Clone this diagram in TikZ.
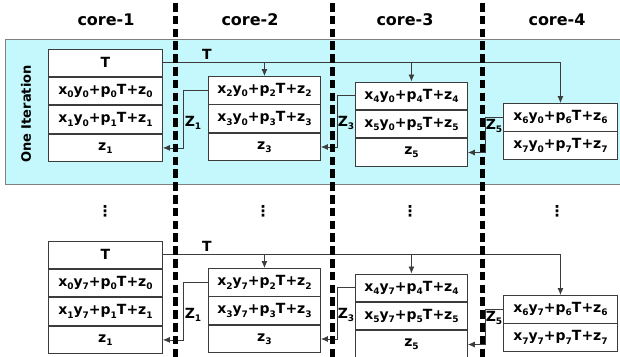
\documentclass[tikz,border=0pt]{standalone}
\usepackage{fontspec}
\setmainfont{DejaVu Sans}
\usetikzlibrary{arrows.meta}
\definecolor{cyanbg}{RGB}{196,248,252}
\definecolor{edge}{RGB}{60,60,60}
\newcommand\lo[1]{\raisebox{-0.45ex}{\fontsize{9}{9}\selectfont #1}}
\newcommand\eqn[2]{x\lo{#1}y\lo{#2}+p\lo{#1}T+z\lo{#1}}
\begin{document}
\begin{tikzpicture}[x=1pt,y=-1pt,
  cell/.style={draw=edge, fill=white, line width=0.9pt, minimum height=27.5pt,
    inner sep=0pt, anchor=north west, font=\fontsize{14}{14}\selectfont\bfseries},
  conn/.style={draw=edge, line width=0.8pt, -{Latex[length=7pt,width=6pt]}},
  lbl/.style={font=\fontsize{14}{14}\selectfont\bfseries, inner sep=0pt},
  head/.style={font=\fontsize{16}{16}\selectfont\bfseries, inner sep=0pt},
  dotsn/.style={font=\fontsize{15}{15}\selectfont\bfseries, inner sep=0pt},
  divider/.style={line width=5pt, dash pattern=on 8.5pt off 4.3pt}]
\useasboundingbox (0,0) rectangle (620,356);
\begin{scope}
\clip (0,0) rectangle (620,356);
\fill[cyanbg, draw=gray, line width=0.8pt] (5,39) rectangle (630,184);
\node[rotate=90, font=\fontsize{13}{13}\selectfont\bfseries, inner sep=0pt] (iter) at (26,114) {One Iteration};

\node[head] (h1) at (106,20) {core-1};
\node[head] (h2) at (250,20) {core-2};
\node[head] (h3) at (405,20) {core-3};
\node[head] (h4) at (557,20) {core-4};

\foreach \g/\o/\yy in {u/0/0, l/192/7} {
  \node[cell, minimum width=114pt] (c1a\g) at (48,{48.5+\o}) {T};
  \node[cell, minimum width=114pt, anchor=north] (c1b\g) at (c1a\g.south) {\eqn{0}{\yy}};
  \node[cell, minimum width=114pt, anchor=north] (c1c\g) at (c1b\g.south) {\eqn{1}{\yy}};
  \node[cell, minimum width=114pt, anchor=north] (c1d\g) at (c1c\g.south) {z\lo{1}};

  \node[cell, minimum width=112pt] (c2a\g) at (208,{76+\o}) {\eqn{2}{\yy}};
  \node[cell, minimum width=112pt, anchor=north] (c2b\g) at (c2a\g.south) {\eqn{3}{\yy}};
  \node[cell, minimum width=112pt, anchor=north] (c2c\g) at (c2b\g.south) {z\lo{3}};

  \node[cell, minimum width=112pt] (c3a\g) at (355,{81.5+\o}) {\eqn{4}{\yy}};
  \node[cell, minimum width=112pt, anchor=north] (c3b\g) at (c3a\g.south) {\eqn{5}{\yy}};
  \node[cell, minimum width=112pt, anchor=north] (c3c\g) at (c3b\g.south) {z\lo{5}};

  \node[cell, minimum width=114pt] (c4a\g) at (503,{103+\o}) {\eqn{6}{\yy}};
  \node[cell, minimum width=114pt, anchor=north] (c4b\g) at (c4a\g.south) {\eqn{7}{\yy}};

  \draw[conn] (c1a\g.east) -| (c4a\g.north);
  \draw[conn] (c1a\g.east -| c2a\g.north) -- (c2a\g.north);
  \draw[conn] (c1a\g.east -| c3a\g.north) -- (c3a\g.north);
  \node[lbl] (tl\g) at (207,{54+\o}) {T};

  \draw[conn] (c2a\g.west) -- ++(-25,0) |- (c1d\g.east);
  \draw[conn] (c3a\g.west) -- ++(-18,0) |- (c2c\g.east);
  \draw[conn] (c4a\g.west) -- ++(-18,0) |- (c3c\g.east);
  \node[lbl] (z1\g) at (193,{123+\o}) {Z\lo{1}};
  \node[lbl] (z3\g) at (346,{123+\o}) {Z\lo{3}};
  \node[lbl] (z5\g) at (494,{126+\o}) {Z\lo{5}};
}
\node[dotsn] (d1) at (105,211) {⋮};
\node[dotsn] (d2) at (263,211) {⋮};
\node[dotsn] (d3) at (410,211) {⋮};
\node[dotsn] (d4) at (557,211) {⋮};

\draw[divider] (175,3) -- (175,360);
\draw[divider] (332,3) -- (332,360);
\draw[divider] (482,3) -- (482,360);
\end{scope}
\end{tikzpicture}
\end{document}
